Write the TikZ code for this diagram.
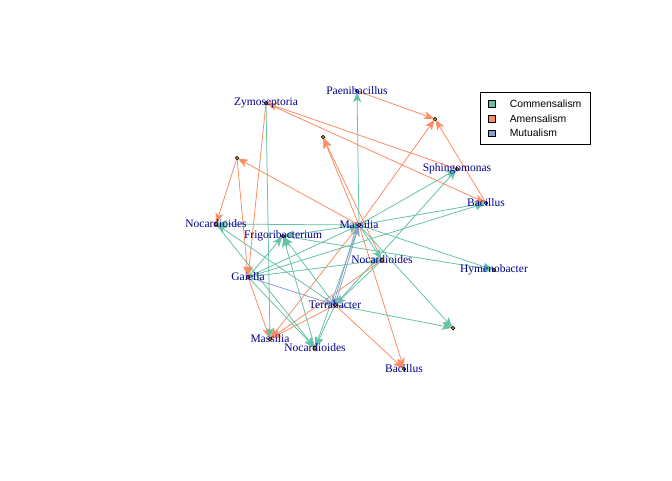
\documentclass[tikz,border=0pt]{standalone}
\usepackage{fontspec}
\setmainfont{Liberation Serif}
\setsansfont{Liberation Sans}
\usetikzlibrary{arrows.meta,positioning,backgrounds}

\definecolor{commcol}{HTML}{66C2A5}
\definecolor{amencol}{HTML}{FC8D62}
\definecolor{mutucol}{HTML}{8DA0CB}
\definecolor{labcol}{HTML}{00008B}
\definecolor{dotcol}{HTML}{FFA500}

\begin{document}
\begin{tikzpicture}[
  x=1pt, y=-1pt,
  vertex/.style={
    circle,
    draw=black,
    fill=dotcol,
    line width=0.7pt,
    inner sep=0pt,
    minimum size=3.5pt
  },
  lbl/.style={text=labcol, font=\fontsize{11.5}{12}\selectfont, inner sep=0pt},
  vx/.style={vertex, label={[lbl]center:#1}},
  link/.style={-{Stealth[length=10pt, width=8pt, inset=2.5pt]}, line width=0.75pt, shorten >=-1pt},
  comm/.style={link, draw=commcol, fill=commcol},
  amen/.style={link, draw=amencol, fill=amencol},
  mutu/.style={link, draw=mutucol, fill=mutucol},
  legkey/.style={draw=black, line width=0.6pt, minimum size=6.5pt, inner sep=0pt},
  legtext/.style={font=\sffamily\fontsize{10.4}{11}\selectfont, inner sep=1pt}
]
\useasboundingbox (0,0) rectangle (672,480);

% vertices
\node[vx=Zymoseptoria] (zym) at (266,103) {};
\node[vx=Paenibacillus] (pae) at (357,91) {};
\node[vertex] (n1) at (435,119) {};
\node[vertex] (n2) at (323,137) {};
\node[vertex] (n3) at (237,158) {};
\node[vx=Sphingomonas] (sph) at (457,169) {};
\node[vx=Bacillus] (bac) at (486,203) {};
\node[vx=Nocardioides] (ncdl) at (216,224) {};
\node[vx=Massilia] (msl) at (359,225) {};
\node[vx=Frigoribacterium] (frg) at (283,236) {};
\node[vx=Nocardioides] (ncd) at (382,260) {};
\node[vx=Gaiella] (gai) at (248,277) {};
\node[vx=Hymenobacter] (hym) at (494,270) {};
\node[vx=Terrabacter] (ter) at (335,305) {};
\node[vertex] (n4) at (453,328) {};
\node[vx=Massilia] (mslb) at (270,339) {};
\node[vx=Nocardioides] (ncdb) at (315,348) {};
\node[vx=Bacillus] (bacb) at (404,369) {};

% edges
\begin{scope}[on background layer]
  % amensalism
  \draw[amen] (pae) -- (n1);
  \draw[amen] (msl) -- (n1);
  \draw[amen] (bac) -- (n1);
  \draw[amen] (sph) -- (zym);
  \draw[amen] (zym) -- (bac);
  \draw[amen] (msl) -- (n2);
  \draw[amen] (ncd) -- (n2);
  \draw[amen] (msl) -- (n3);
  \draw[amen] (n3) -- (ncdl);
  \draw[amen] (n3) -- (gai);
  \draw[amen] (zym) -- (gai);
  \draw[amen] (gai) -- (mslb);
  \draw[amen] (ter) -- (mslb);
  \draw[amen] (ncd) -- (mslb);
  \draw[amen] (msl) -- (mslb);
  \draw[amen] (msl) -- (bacb);
  \draw[amen] (ter) -- (bacb);
  % commensalism
  \draw[comm] (msl) -- (pae);
  \draw[comm] (msl) -- (sph);
  \draw[comm] (ter) -- (sph);
  \draw[comm] (msl) -- (bac);
  \draw[comm] (gai) -- (bac);
  \draw[comm] (msl) -- (hym);
  \draw[comm] (frg) -- (hym);
  \draw[comm] (msl) -- (ncd);
  \draw[comm] (msl) -- (ncdl);
  \draw[comm] (ter) -- (ncdl);
  \draw[comm] (ncdl) -- (ncdb);
  \draw[comm] (gai) -- (frg);
  \draw[comm] (ter) -- (frg);
  \draw[comm] (ncdb) -- (frg);
  \draw[comm] (msl) -- (frg);
  \draw[comm] (gai) -- (msl);
  \draw[comm] (gai) -- (ncd);
  \draw[comm] (ncd) -- (ter);
  \draw[comm] (ter) -- (n4);
  \draw[comm] (msl) -- (n4);
  \draw[comm] (ter) -- (ncdb);
  \draw[comm] (msl) -- (ncdb);
  \draw[comm] (gai) -- (ncdb);
  \draw[comm] (zym) -- (mslb);
  % mutualism
  \draw[mutu] (ter) -- (msl);
  \draw[mutu] ([xshift=-2pt]msl.center) -- ([xshift=-2pt]ter.center);
  \draw[mutu] (gai) -- (ter);
\end{scope}

% legend
\node[draw=black, line width=0.6pt, minimum width=110pt, minimum height=52pt] (legend) at (535,118) {};
\node[legkey, fill=commcol] (k1) at (492,104) {};
\node[legkey, fill=amencol, below=7.5pt of k1] (k2) {};
\node[legkey, fill=mutucol, below=7.5pt of k2] (k3) {};
\node[legtext, right=13pt of k1] (t1) {Commensalism};
\node[legtext, right=13pt of k2] (t2) {Amensalism};
\node[legtext, right=13pt of k3] (t3) {Mutualism};

\end{tikzpicture}
\end{document}
